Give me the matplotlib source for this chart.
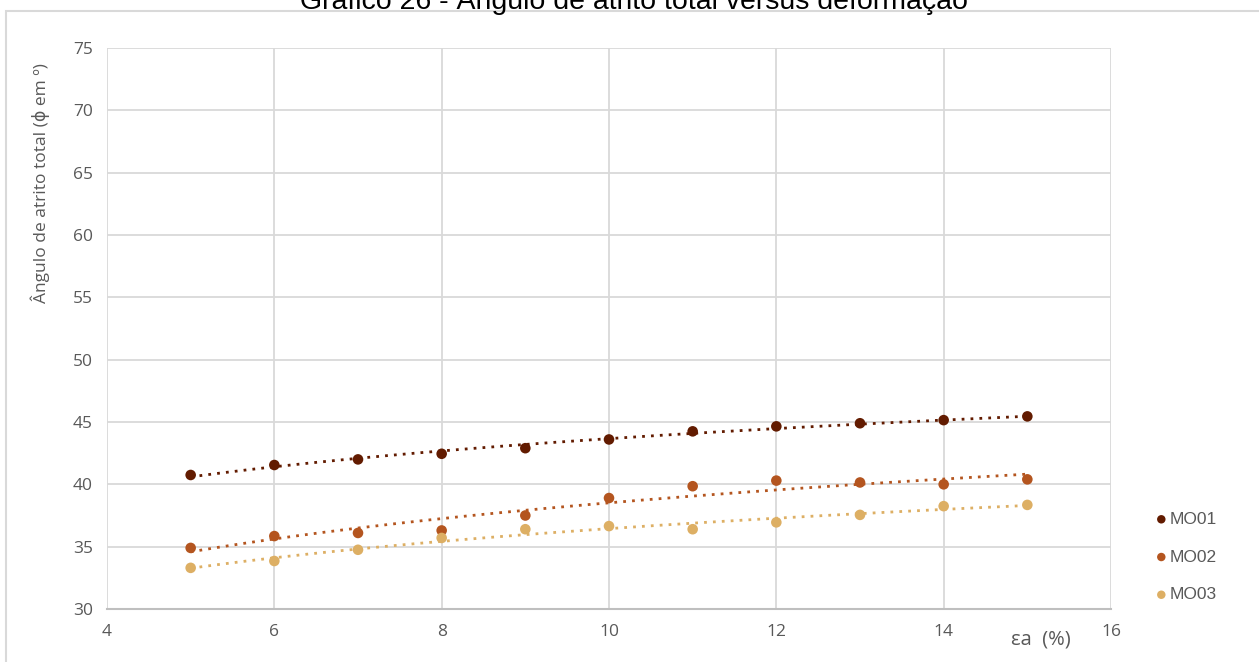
import matplotlib
matplotlib.use("Agg")
import matplotlib.pyplot as plt
import numpy as np
from matplotlib.patches import Rectangle

# deformação axial (%)
eps = [5, 6, 7, 8, 9, 10, 11, 12, 13, 14, 15]

mo01 = [40.75, 41.55, 42.0, 42.45, 42.9, 43.6, 44.25, 44.65, 44.9, 45.15, 45.45]
mo02 = [34.9, 35.85, 36.1, 36.3, 37.5, 38.9, 39.85, 40.3, 40.15, 40.0, 40.4]
mo03 = [33.3, 33.85, 34.75, 35.7, 36.4, 36.65, 36.4, 36.95, 37.55, 38.25, 38.35]

series = [("MO01", mo01, "#621B00"),
          ("MO02", mo02, "#B4551F"),
          ("MO03", mo03, "#DDAF64")]

W, H = 1259, 662
fig = plt.figure(figsize=(W / 100, H / 100), dpi=100)
ax = fig.add_axes([107 / W, 1 - 609 / H, (1111 - 107) / W, (609 - 48) / H])

# moldura do gráfico
fig.patches.append(Rectangle((6 / W, -0.1), 1.2, 1 - 11 / H + 0.1,
                             transform=fig.transFigure, fill=False,
                             edgecolor="#d9d9d9", linewidth=1.5))

x = np.array(eps, dtype=float)
xx = np.linspace(x.min(), x.max(), 200)
for name, vals, col in series:
    ax.scatter(x, vals, s=58, color=col, zorder=3, label=name, edgecolors="none")
    # linha de tendência logarítmica
    a, b = np.polyfit(np.log(x), vals, 1)
    ax.plot(xx, a * np.log(xx) + b, linestyle=(0, (1, 2.2)), color=col,
            linewidth=2, zorder=2)

ax.set_xlim(4, 16)
ax.set_ylim(30, 75)
ax.set_xticks(range(4, 17, 2))
ax.set_yticks(range(30, 76, 5))
ax.grid(True, color="#d9d9d9", linewidth=1.3)
ax.set_axisbelow(True)
for s in ["top", "right", "left"]:
    ax.spines[s].set_visible(False)
ax.spines["bottom"].set_color("#bfbfbf")
ax.spines["bottom"].set_linewidth(1.5)
ax.tick_params(length=0, labelsize=12.5, labelcolor="#595959")
ax.tick_params(axis="y", pad=10)
ax.tick_params(axis="x", pad=11)
for lab in ax.get_xticklabels() + ax.get_yticklabels():
    lab.set_family("Open Sans")

fig.text(40 / W, 1 - 183 / H, "Ângulo de atrito total (ɸ em º)", rotation=90,
         ha="center", va="center", fontsize=12.5, color="#595959",
         family=["Open Sans", "DejaVu Sans"])
fig.text(1041 / W, 1 - 640 / H, "εa  (%)", ha="center", va="center",
         fontsize=14.5, color="#595959", family=["Open Sans", "DejaVu Sans"])

fig.text(634 / W, 1 - 9 / H, "Gráfico 26 - Ângulo de atrito total versus deformação",
         ha="center", va="baseline", fontsize=20.5, color="#000000",
         family="Liberation Sans")

leg = ax.legend(loc="center left", bbox_to_anchor=(1137 / W, 1 - 557 / H),
                bbox_transform=fig.transFigure, frameon=False,
                prop={"family": "Liberation Sans", "size": 12.5},
                handletextpad=0.0, labelspacing=1.3, markerscale=0.8,
                handlelength=1.0)
for t in leg.get_texts():
    t.set_color("#595959")

fig.savefig("out.png", dpi=100)
